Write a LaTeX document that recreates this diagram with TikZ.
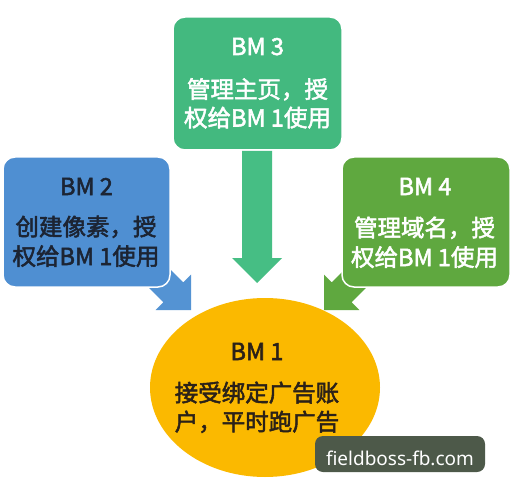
\documentclass[tikz,border=0pt]{standalone}
\usepackage{fontspec}
\newfontfamily\cjk[FakeBold=2.2]{Noto Sans CJK SC}
\newfontfamily\wmfont{Noto Sans}
\definecolor{cTeal}{HTML}{43B97F}
\definecolor{cTealArrow}{HTML}{46BE84}
\definecolor{cBlue}{HTML}{4F8FD2}
\definecolor{cBlueArrow}{HTML}{5493D3}
\definecolor{cGreen}{HTML}{5FA83F}
\definecolor{cYellow}{HTML}{FBB900}
\definecolor{cWm}{HTML}{4D5949}
\definecolor{cDarkBlue}{HTML}{1C2433}
\definecolor{cDark}{HTML}{2B2118}
\usetikzlibrary{shapes.geometric}
\tikzset{
  bmbox/.style={rectangle, rounded corners=12pt, draw=white, line width=1.5pt, inner sep=0pt},
  txt/.style={font=\cjk\fontsize{23.5}{28}\selectfont, inner sep=0pt, anchor=base},
  blockarrow/.style={draw=none}
}
\begin{document}
\begin{tikzpicture}[x=1pt,y=-1pt]
\fill[white] (0,0) rectangle (514,500);
\useasboundingbox (0,0) rectangle (514,500);

% side arrows (under boxes)
\fill[cBlueArrow] (191,310) -- (191,274.64) -- (183.22,282.42) -- (133.72,232.92)
  -- (113.92,252.72) -- (163.42,302.22) -- (155.64,310) -- cycle;
\fill[cGreen] (324,310) -- (324,274.64) -- (331.78,282.42) -- (381.28,232.92)
  -- (401.08,252.72) -- (351.58,302.22) -- (359.36,310) -- cycle;

% boxes
\node[bmbox, fill=cTeal, minimum width=169pt, minimum height=133pt] (bm3) at (257.5,83.5) {};
\node[bmbox, fill=cBlue, minimum width=167pt, minimum height=130pt] (bm2) at (86.5,222) {};
\node[bmbox, fill=cGreen, minimum width=168pt, minimum height=130pt] (bm4) at (426,222) {};

% down arrow
\fill[cTealArrow] (242,151) -- (272,151) -- (272,258) -- (282,258) -- (257,283)
  -- (232,258) -- (242,258) -- cycle;

% ellipse
\node[ellipse, fill=cYellow, minimum width=230pt, minimum height=179pt, inner sep=0pt] (bm1) at (265,387.5) {};

% texts
\node[txt, text=white] (t3a) at (257.5,55) {BM 3};
\node[txt, text=white] (t3b) at (257.5,98) {管理主页，授};
\node[txt, text=white] (t3c) at (257.5,126.5) {权给BM 1使用};

\node[txt, text=cDarkBlue] (t2a) at (86.5,195) {BM 2};
\node[txt, text=cDarkBlue] (t2b) at (86,235.5) {创建像素，授};
\node[txt, text=cDarkBlue] (t2c) at (86,265) {权给BM 1使用};

\node[txt, text=white] (t4a) at (425,195) {BM 4};
\node[txt, text=white] (t4b) at (424.5,236.5) {管理域名，授};
\node[txt, text=white] (t4c) at (424.5,266) {权给BM 1使用};

\node[txt, text=cDark] (t1a) at (257,360) {BM 1};
\node[txt, text=cDark] (t1b) at (257,401.5) {接受绑定广告账};
\node[txt, text=cDark] (t1c) at (257,430.5) {户，平时跑广告};

% watermark
\node[rectangle, rounded corners=8pt, fill=cWm, minimum width=170pt, minimum height=36pt, inner sep=0pt] (wm) at (400,454) {};
\node[font=\wmfont\fontsize{19}{22}\selectfont, text=white, inner sep=0pt, anchor=base] (wmt) at (400,465) {fieldboss-fb.com};
\end{tikzpicture}
\end{document}
